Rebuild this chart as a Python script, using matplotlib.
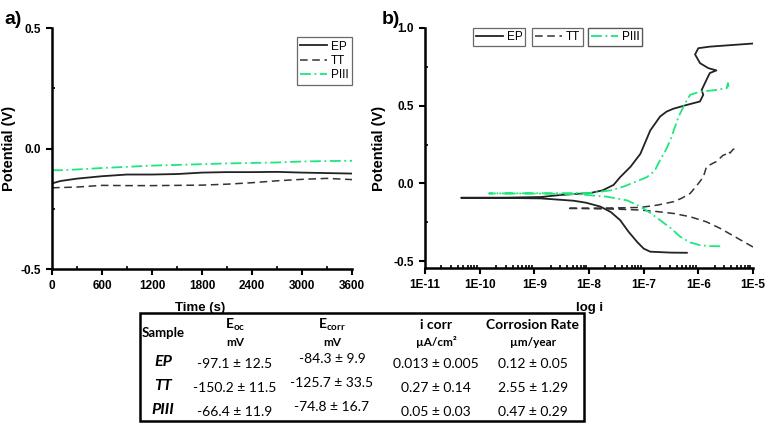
import numpy as np
import matplotlib
matplotlib.use("Agg")
import matplotlib.pyplot as plt
from matplotlib.ticker import MultipleLocator, LogLocator, FixedLocator, NullFormatter

plt.rcParams['font.family'] = ['Liberation Sans', 'DejaVu Sans']

GREEN = '#1de87d'
DARK = '#222222'
GREY = '#333333'

# ---- panel a: open circuit potential vs time ----
time_s = [0, 100, 300, 600, 900, 1200, 1500, 1800, 2100, 2400, 2700, 3000, 3300, 3600]
ocp_ep = [-0.145, -0.135, -0.125, -0.115, -0.108, -0.108, -0.106, -0.100, -0.098, -0.098, -0.097, -0.100, -0.102, -0.104]
ocp_tt = [-0.163, -0.162, -0.160, -0.153, -0.154, -0.154, -0.153, -0.152, -0.148, -0.142, -0.134, -0.128, -0.124, -0.129]
ocp_piii = [-0.090, -0.090, -0.087, -0.081, -0.076, -0.071, -0.068, -0.065, -0.062, -0.060, -0.058, -0.054, -0.052, -0.051]

# ---- panel b: potentiodynamic polarization (log current, potential) ----
ep_logi = [-6.21, -6.5, -6.88, -7.0, -7.12, -7.28, -7.43, -7.6, -7.79, -8.05, -8.28, -8.88, -9.5, -10.34,
           -9.5, -8.88, -8.52, -7.97, -7.75, -7.55, -7.43, -7.24, -7.06, -6.88, -6.70, -6.58, -6.46,
           -6.21, -5.97, -5.91, -5.94, -5.85, -5.79, -5.67, -5.82, -5.97, -6.06, -6.0, -5.79, -5.4, -5.0]
ep_v = [-0.447, -0.446, -0.44, -0.42, -0.377, -0.31, -0.237, -0.185, -0.15, -0.125, -0.112, -0.097, -0.094, -0.093,
        -0.092, -0.088, -0.075, -0.062, -0.045, -0.01, 0.04, 0.107, 0.19, 0.34, 0.43, 0.462, 0.48,
        0.505, 0.527, 0.57, 0.60, 0.667, 0.71, 0.727, 0.742, 0.774, 0.83, 0.87, 0.88, 0.89, 0.90]

tt_logi = [-5.0, -5.3, -5.6, -5.85, -6.15, -6.45, -6.75, -7.06, -7.5, -8.0, -8.4,
           -8.0, -7.5, -7.06, -6.75, -6.45, -6.3, -6.15, -6.03, -5.91, -5.85, -5.73, -5.67, -5.55,
           -5.48, -5.45, -5.42, -5.36, -5.3]
tt_v = [-0.41, -0.35, -0.29, -0.248, -0.215, -0.194, -0.182, -0.172, -0.166, -0.163, -0.161,
        -0.16, -0.158, -0.155, -0.14, -0.118, -0.095, -0.065, -0.015, 0.04, 0.107, 0.13, 0.14, 0.18,
        0.19, 0.205, 0.195, 0.22, 0.218]

piii_logi = [-5.6, -5.8, -5.97, -6.15, -6.33, -6.5, -6.70, -6.88, -7.06, -7.3, -7.67, -8.2, -8.88, -9.83,
             -8.88, -7.97, -7.6, -7.36, -7.15, -6.94, -6.80, -6.70, -6.60, -6.51, -6.43, -6.36, -6.24,
             -6.15, -5.97, -5.7, -5.48, -5.46, -5.45]
piii_v = [-0.405, -0.404, -0.398, -0.38, -0.344, -0.29, -0.237, -0.19, -0.15, -0.11, -0.086, -0.07, -0.066, -0.065,
          -0.064, -0.062, -0.045, -0.02, 0.01, 0.04, 0.08, 0.15, 0.21, 0.28, 0.36, 0.43, 0.516,
          0.57, 0.59, 0.60, 0.613, 0.645, 0.62]

legend_labels = ['EP', 'TT', 'PIII']

# ---- table ----
col_headers = ['Sample', 'E$_{\\mathregular{oc}}$', 'E$_{\\mathregular{corr}}$', 'i corr', 'Corrosion Rate']
col_units = ['', 'mV', 'mV', 'µA/cm²', 'µm/year']
row_samples = ['EP', 'TT', 'PIII']
eoc_vals = ['-97.1 ± 12.5', '-150.2 ± 11.5', '-66.4 ± 11.9']
ecorr_vals = ['-84.3 ± 9.9', '-125.7 ± 33.5', '-74.8 ± 16.7']
icorr_vals = ['0.013 ± 0.005', '0.27 ± 0.14', '0.05 ± 0.03']
rate_vals = ['0.12 ± 0.05', '2.55 ± 1.29', '0.47 ± 0.29']

W, H = 767, 423
fig = plt.figure(figsize=(W / 100, H / 100), dpi=100)


def fx(px):
    return px / W


def fy(py):
    return 1 - py / H


def style_axes(ax):
    for s in ['top', 'right']:
        ax.spines[s].set_visible(False)
    for s in ['left', 'bottom']:
        ax.spines[s].set_linewidth(1.8)
    ax.tick_params(which='major', direction='out', length=4, width=1.5, labelsize=8.5, pad=4)
    ax.tick_params(which='minor', direction='in', length=2.5, width=1.2)
    for lab in ax.get_xticklabels() + ax.get_yticklabels():
        lab.set_fontweight('bold')


LEG_KW = dict(fontsize=8.5, frameon=True, fancybox=False, edgecolor='#444444', handlelength=2.3,
              handletextpad=0.3, borderaxespad=0.0)

# panel a
axa = fig.add_axes([fx(52), fy(269), fx(300), 241 / H])
axa.plot(time_s, ocp_ep, color=DARK, lw=1.3, ls='-', label=legend_labels[0])
axa.plot(time_s, ocp_tt, color=GREY, lw=1.1, ls=(0, (5, 3)), label=legend_labels[1])
axa.plot(time_s, ocp_piii, color=GREEN, lw=1.3, ls=(0, (6, 2, 1, 2)), label=legend_labels[2])
axa.set_xlim(0, 3600)
axa.set_ylim(-0.5, 0.5)
axa.set_xticks(np.arange(0, 3601, 600))
axa.xaxis.set_minor_locator(MultipleLocator(300))
axa.set_yticks([-0.5, 0.0, 0.5])
axa.set_yticklabels(['-0.5', '0.0', '0.5'])
axa.yaxis.set_minor_locator(MultipleLocator(0.25))
style_axes(axa)
axa.set_xlabel('Time (s)', fontsize=9.5, fontweight='bold')
axa.xaxis.set_label_coords((200 - 52) / 300, -(302 - 269) / 241)
axa.set_ylabel('Potential (V)', fontsize=10.5, fontweight='bold')
axa.yaxis.set_label_coords(-(52 - 16) / 300, 0.5)
leg = axa.legend(loc='upper right', bbox_to_anchor=(1.0, 1 - 9 / 241), borderpad=0.3,
                 labelspacing=0.2, **LEG_KW)
leg.get_frame().set_linewidth(0.9)

# panel b
axb = fig.add_axes([fx(425), fy(268), fx(328), 240 / H])
lb1, = axb.plot(10 ** np.array(ep_logi), ep_v, color=DARK, lw=1.3, ls='-')
lb2, = axb.plot(10 ** np.array(tt_logi), tt_v, color=GREY, lw=1.1, ls=(0, (5, 3)))
lb3, = axb.plot(10 ** np.array(piii_logi), piii_v, color=GREEN, lw=1.3, ls=(0, (6, 2, 1, 2)))
axb.set_xscale('log')
axb.set_xlim(1e-11, 1e-5)
axb.set_ylim(-0.545, 1.0)
axb.xaxis.set_major_locator(FixedLocator([10.0 ** k for k in range(-11, -4)]))
axb.set_xticklabels(['1E-11', '1E-10', '1E-9', '1E-8', '1E-7', '1E-6', '1E-5'])
axb.xaxis.set_minor_locator(LogLocator(base=10, subs=np.arange(2, 10), numticks=20))
axb.xaxis.set_minor_formatter(NullFormatter())
axb.set_yticks([-0.5, 0.0, 0.5, 1.0])
axb.set_yticklabels(['-0.5', '0.0', '0.5', '1.0'])
axb.yaxis.set_minor_locator(MultipleLocator(0.25))
style_axes(axb)
axb.set_xlabel('log i', fontsize=9.5, fontweight='bold')
axb.xaxis.set_label_coords((590 - 425) / 328, -(302 - 268) / 240)
axb.set_ylabel('Potential (V)', fontsize=10.5, fontweight='bold')
axb.yaxis.set_label_coords(-(425 - 386) / 328, 0.5)

legend_x = [(473 - 425) / 328, (532 - 425) / 328, (588 - 425) / 328]
for h, lab, lx in zip([lb1, lb2, lb3], legend_labels, legend_x):
    lg = axb.legend([h], [lab], loc='upper left', bbox_to_anchor=(lx, 1.0), borderpad=0.25, **LEG_KW)
    lg.get_frame().set_linewidth(0.9)
    axb.add_artist(lg)

# panel labels
fig.text(fx(4), fy(20), 'a)', fontsize=14, fontweight='bold', va='center')
fig.text(fx(382), fy(20), 'b)', fontsize=14, fontweight='bold', va='center')

# table
tbl_font = ['Lato', 'DejaVu Sans']
fig.patches.append(plt.Rectangle((fx(140), fy(421)), fx(444), 108 / H, transform=fig.transFigure,
                                 fill=False, lw=1.8, edgecolor='black'))
col_x = [163, 235, 332, 436, 533]
fig.text(fx(col_x[0]), fy(333), col_headers[0], fontsize=9.5, fontweight='bold', ha='center', va='center',
         family=tbl_font)
for i in range(1, 5):
    fig.text(fx(col_x[i]), fy(325), col_headers[i], fontsize=10, fontweight='bold', ha='center',
             va='center', family=tbl_font)
    fig.text(fx(col_x[i]), fy(342), col_units[i], fontsize=8.5, fontweight='bold', ha='center',
             va='center', family=tbl_font)

row_y = [364, 388, 412]
for r, (s, a, b, c, d) in enumerate(zip(row_samples, eoc_vals, ecorr_vals, icorr_vals, rate_vals)):
    y = row_y[r]
    fig.text(fx(col_x[0]), fy(y - 2), s, fontsize=11.5, fontweight='bold', fontstyle='italic',
             ha='center', va='center', family=tbl_font)
    fig.text(fx(col_x[1]), fy(y), a, fontsize=10, ha='center', va='center', family=tbl_font)
    fig.text(fx(col_x[2]), fy(y - 5), b, fontsize=10, ha='center', va='center', family=tbl_font)
    fig.text(fx(col_x[3]), fy(y), c, fontsize=10, ha='center', va='center', family=tbl_font)
    fig.text(fx(col_x[4]), fy(y), d, fontsize=10, ha='center', va='center', family=tbl_font)

fig.savefig('out.png', dpi=100)
